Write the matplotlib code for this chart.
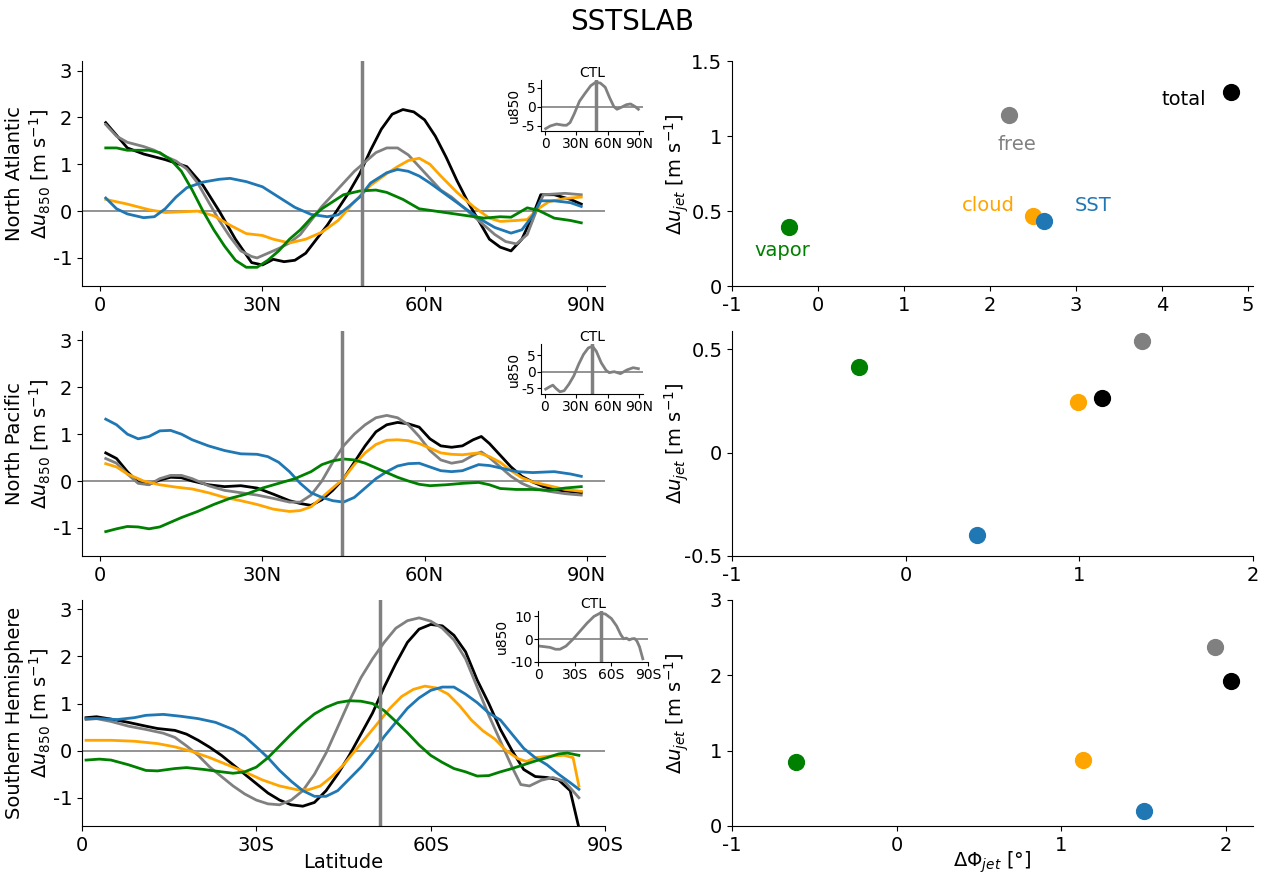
import matplotlib
matplotlib.use('Agg')
import matplotlib.pyplot as plt
from matplotlib.ticker import FormatStrFormatter

plt.rcParams['axes.unicode_minus'] = False
plt.rcParams['font.family'] = ['DejaVu Sans']

experiments = ['total', 'free', 'cloud', 'SST', 'vapor']
colors = ['black', 'grey', 'orange', '#1f77b4', 'green']

# ---- North Atlantic: delta u850 ----
na_total_lat = [1, 5, 8, 12, 16, 19, 22, 25, 28, 30, 32, 34, 36, 38, 40, 42, 44, 46, 48, 50, 52, 54, 56, 58, 60,
                62, 64, 66, 68, 70, 72, 74, 76, 78, 80, 81.5, 84, 87, 89]
na_total = [1.89, 1.35, 1.22, 1.1, 0.95, 0.55, 0.0, -0.6, -1.1, -1.15, -1.03, -1.08, -1.05, -0.9, -0.6, -0.3, 0.05,
            0.4, 0.8, 1.3, 1.75, 2.07, 2.17, 2.12, 1.95, 1.6, 1.15, 0.65, 0.2, -0.2, -0.6, -0.77, -0.85, -0.6, -0.1,
            0.35, 0.35, 0.25, 0.15]
na_free_lat = [1, 3, 5, 8, 10, 12, 14, 16, 18, 20, 22, 24, 26, 28, 29, 31, 33, 35, 37, 39, 41, 43, 45, 47, 49, 51,
               53, 55, 57, 59, 61, 63, 65, 67, 69, 71, 73, 75, 77, 79, 81, 82, 86, 89]
na_free = [1.85, 1.6, 1.47, 1.38, 1.3, 1.17, 1.07, 0.9, 0.6, 0.2, -0.2, -0.55, -0.85, -0.97, -1.0, -0.9, -0.8,
           -0.68, -0.5, -0.2, 0.1, 0.35, 0.6, 0.85, 1.05, 1.25, 1.35, 1.35, 1.2, 0.95, 0.7, 0.45, 0.3, 0.1, -0.1,
           -0.3, -0.5, -0.65, -0.7, -0.5, 0.1, 0.35, 0.38, 0.35]
na_cloud_lat = [1, 5, 9, 12, 18, 21, 24, 27, 30, 32, 35, 38, 41, 44, 47, 50, 53, 55, 57, 59, 61, 63, 66, 69, 72,
                74, 77, 79, 81, 83, 86, 89]
na_cloud = [0.25, 0.15, 0.03, -0.03, 0.0, -0.1, -0.3, -0.48, -0.52, -0.6, -0.68, -0.6, -0.45, -0.2, 0.2, 0.55, 0.8,
            0.95, 1.08, 1.13, 1.0, 0.75, 0.4, 0.1, -0.15, -0.22, -0.2, -0.18, 0.05, 0.2, 0.27, 0.3]
na_sst_lat = [1, 3, 5, 8, 10, 12, 14, 16, 19, 22, 24, 27, 30, 33, 36, 39, 42, 44, 46, 48, 50, 53, 55, 57, 59, 61,
              64, 67, 70, 73, 76, 78, 80, 81.5, 84, 87, 89]
na_sst = [0.28, 0.05, -0.06, -0.14, -0.12, 0.05, 0.3, 0.5, 0.62, 0.68, 0.7, 0.63, 0.52, 0.3, 0.08, -0.07, -0.12,
          -0.08, 0.1, 0.3, 0.6, 0.82, 0.89, 0.85, 0.75, 0.6, 0.35, 0.1, -0.15, -0.35, -0.47, -0.4, -0.1, 0.22,
          0.22, 0.18, 0.1]
na_vapor_lat = [1, 3, 5, 9, 11, 13, 15, 17, 19, 21, 23, 25, 27, 29, 31, 33, 35, 37, 39, 41, 43, 45, 48, 51, 53, 56,
                59, 62, 65, 68, 71, 74, 76, 79, 81, 84, 87, 89]
na_vapor = [1.35, 1.35, 1.3, 1.3, 1.25, 1.1, 0.85, 0.45, 0.0, -0.4, -0.75, -1.05, -1.2, -1.2, -1.05, -0.85, -0.6,
            -0.4, -0.15, 0.05, 0.2, 0.35, 0.43, 0.45, 0.4, 0.25, 0.05, 0.0, -0.05, -0.1, -0.15, -0.12, -0.13, 0.07,
            0.02, -0.15, -0.2, -0.25]

# ---- North Pacific: delta u850 ----
np_total_lat = [1, 3, 5, 7, 9, 11, 13, 15, 17, 20, 23, 26, 29, 32, 35, 37, 39, 41, 43, 45, 47, 49, 51, 53, 55, 57,
                59, 61, 63, 65, 67, 69, 70.5, 72, 74, 76, 78, 80, 82, 85, 89]
np_total = [0.6, 0.48, 0.2, -0.03, -0.07, 0.02, 0.08, 0.07, 0.0, -0.08, -0.12, -0.1, -0.15, -0.28, -0.42, -0.48,
            -0.52, -0.4, -0.2, 0.05, 0.4, 0.75, 1.05, 1.2, 1.25, 1.22, 1.15, 0.9, 0.75, 0.72, 0.75, 0.88, 0.95,
            0.8, 0.55, 0.3, 0.1, -0.02, -0.12, -0.2, -0.25]
np_free_lat = [1, 3, 5, 7, 9, 11, 13, 15, 17, 20, 23, 26, 29, 32, 35, 37, 39, 41, 43, 45, 47, 49, 51, 53, 55, 57,
               59, 61, 63, 65, 67, 69, 70.5, 72, 74, 76, 78, 80, 83, 86, 89]
np_free = [0.48, 0.38, 0.15, -0.05, -0.08, 0.05, 0.12, 0.12, 0.05, -0.1, -0.2, -0.25, -0.3, -0.37, -0.45, -0.45,
           -0.3, 0.0, 0.4, 0.75, 1.0, 1.2, 1.35, 1.4, 1.35, 1.2, 0.95, 0.65, 0.45, 0.38, 0.42, 0.55, 0.62, 0.5,
           0.3, 0.1, -0.05, -0.15, -0.22, -0.27, -0.3]
np_cloud_lat = [1, 3, 5, 8, 11, 14, 17, 20, 23, 26, 29, 32, 35, 37, 39, 41, 43, 45, 47, 49, 51, 53, 55, 57, 59, 61,
                63, 65, 67, 70, 72, 74, 76, 78, 80, 83, 86, 89]
np_cloud = [0.37, 0.3, 0.15, 0.0, -0.08, -0.13, -0.17, -0.25, -0.35, -0.42, -0.5, -0.6, -0.65, -0.63, -0.55, -0.35,
            -0.15, 0.05, 0.35, 0.6, 0.78, 0.87, 0.88, 0.86, 0.8, 0.7, 0.6, 0.57, 0.56, 0.6, 0.52, 0.4, 0.22, 0.07,
            -0.02, -0.1, -0.18, -0.22]
np_sst_lat = [1, 3, 5, 7, 9, 11, 13, 15, 17, 20, 23, 26, 29, 31, 33, 35, 37, 39, 41, 43, 45, 47, 49, 51, 53, 55, 57,
              59, 61, 63, 65, 67, 70, 72, 74, 77, 80, 84, 87, 89]
np_sst = [1.32, 1.2, 1.0, 0.9, 0.95, 1.07, 1.08, 1.0, 0.88, 0.75, 0.65, 0.58, 0.57, 0.52, 0.4, 0.2, -0.05, -0.25,
          -0.35, -0.42, -0.45, -0.35, -0.15, 0.05, 0.2, 0.32, 0.37, 0.38, 0.3, 0.22, 0.2, 0.22, 0.35, 0.33, 0.28,
          0.2, 0.18, 0.2, 0.15, 0.1]
np_vapor_lat = [1, 3, 5, 7, 9, 11, 13, 15, 18, 21, 24, 27, 30, 33, 36, 39, 41, 43, 45, 47, 49, 51, 53, 55, 57, 59,
                61, 64, 67, 70, 72, 74, 77, 80, 83, 86, 89]
np_vapor = [-1.08, -1.02, -0.97, -0.98, -1.02, -0.98, -0.88, -0.78, -0.65, -0.5, -0.37, -0.28, -0.15, -0.05, 0.05,
            0.2, 0.35, 0.43, 0.47, 0.45, 0.38, 0.28, 0.18, 0.08, 0.0, -0.07, -0.1, -0.08, -0.05, -0.03, -0.08, -0.16,
            -0.18, -0.18, -0.2, -0.15, -0.12]

# ---- Southern Hemisphere: delta u850 ----
sh_total_lat = [0.7, 2.5, 5, 8, 11, 13, 16, 18, 20, 22, 24, 26, 28, 30, 32, 34, 36, 38, 40, 42, 44, 46, 48, 50, 52,
                54, 56, 58, 60, 62, 64, 66, 68, 70, 72, 74, 76, 78, 80, 82, 84, 86]
sh_total = [0.7, 0.72, 0.67, 0.6, 0.52, 0.47, 0.43, 0.35, 0.22, 0.07, -0.1, -0.3, -0.5, -0.7, -0.9, -1.05, -1.15,
            -1.18, -1.1, -0.85, -0.5, -0.1, 0.35, 0.8, 1.35, 1.85, 2.3, 2.58, 2.68, 2.65, 2.45, 2.1, 1.5, 1.0, 0.45,
            0.0, -0.4, -0.55, -0.57, -0.62, -0.85, -1.9]
sh_free_lat = [0.7, 2.5, 5, 8, 11, 14, 16, 18, 20, 22, 24, 26, 28, 30, 32, 34, 36, 38, 40, 42, 44, 46, 48, 50, 52,
               54, 56, 58, 60, 62, 64, 66, 68, 70, 72, 74, 75.5, 77, 79, 81, 83, 85.5]
sh_free = [0.66, 0.68, 0.62, 0.52, 0.45, 0.37, 0.28, 0.1, -0.1, -0.35, -0.55, -0.75, -0.92, -1.05, -1.13, -1.15,
           -1.05, -0.85, -0.5, -0.05, 0.5, 1.05, 1.55, 1.95, 2.3, 2.6, 2.76, 2.82, 2.75, 2.6, 2.35, 1.95, 1.35,
           0.75, 0.2, -0.35, -0.72, -0.75, -0.63, -0.57, -0.65, -1.0]
sh_cloud_lat = [0.7, 5, 9, 13, 16, 19, 22, 25, 28, 31, 34, 37, 39, 41, 43, 45, 47, 49, 51, 53, 55, 57, 59, 61, 63,
                65, 67, 69, 71, 73, 75, 76.5, 78, 80, 83, 84.5, 85.5]
sh_cloud = [0.22, 0.22, 0.2, 0.15, 0.08, -0.02, -0.15, -0.3, -0.45, -0.62, -0.75, -0.83, -0.83, -0.75, -0.55, -0.3,
            0.0, 0.3, 0.6, 0.9, 1.15, 1.3, 1.37, 1.33, 1.2, 0.95, 0.65, 0.42, 0.25, 0.0, -0.17, -0.23, -0.15, -0.12,
            -0.1, -0.15, -0.75]
sh_sst_lat = [0.7, 3, 6, 9, 11, 14, 17, 20, 23, 26, 28, 30, 32, 34, 36, 38, 40, 42, 44, 46, 48, 50, 52, 54, 56, 58,
              60, 62, 64, 66, 68, 70, 72, 74, 76, 78, 80, 82, 84, 85.5]
sh_sst = [0.68, 0.68, 0.66, 0.7, 0.75, 0.77, 0.73, 0.68, 0.6, 0.45, 0.3, 0.08, -0.15, -0.42, -0.65, -0.85, -0.97,
          -0.97, -0.85, -0.6, -0.35, -0.05, 0.3, 0.6, 0.9, 1.12, 1.28, 1.35, 1.35, 1.2, 1.02, 0.8, 0.65, 0.35,
          0.05, -0.15, -0.3, -0.5, -0.68, -0.82]
sh_vapor_lat = [0.7, 3, 5, 8, 11, 13, 16, 18, 21, 24, 26, 28, 30, 32, 34, 36, 38, 40, 42, 44, 46, 48, 50, 52, 54,
                56, 58, 60, 62, 64, 66, 68, 70, 72, 74, 76, 78, 80, 82, 83.5, 85.5]
sh_vapor = [-0.2, -0.18, -0.2, -0.3, -0.42, -0.43, -0.38, -0.36, -0.4, -0.45, -0.48, -0.45, -0.35, -0.15, 0.1,
            0.35, 0.58, 0.78, 0.92, 1.02, 1.06, 1.05, 1.0, 0.85, 0.62, 0.38, 0.12, -0.1, -0.25, -0.38, -0.45, -0.54,
            -0.53, -0.45, -0.38, -0.3, -0.22, -0.15, -0.07, -0.05, -0.1]

# ---- CTL u850 (insets) ----
na_ctl_lat = [0.6, 5, 11, 17.6, 20.7, 24, 28, 33, 37.6, 43.8, 48.5, 53, 57.7, 62, 66, 69, 73, 78, 82, 86.4, 89.5]
na_ctl = [-5.7, -5.0, -4.5, -4.8, -4.8, -4.1, -1.8, 1.5, 3.3, 5.6, 6.5, 6.3, 5.2, 2.4, 0.1, -0.6, -0.1, 0.6, 0.8,
          0.1, -0.6]
np_ctl_lat = [0.9, 4.6, 7.7, 10.7, 14.4, 18.4, 23, 27.6, 32.2, 36.8, 41.4, 45.4, 49, 53.7, 58.3, 61.3, 66, 72, 78,
              84, 89]
np_ctl = [-5.3, -4.6, -4.1, -5.1, -6.1, -5.8, -3.8, -1.3, 2.2, 5.2, 7.2, 7.7, 6.2, 2.7, 0.4, -0.3, 0.0, -0.6, 0.5,
          1.2, 0.9]
sh_ctl_lat = [0.9, 5.7, 10, 14.3, 18, 22.9, 28.6, 34.3, 40, 45.7, 50.6, 55, 60, 64.3, 67.7, 70, 72.3, 74.6, 76.9,
              79, 80.9, 83, 85.7]
sh_ctl = [-3.0, -3.3, -3.6, -4.4, -4.4, -3.0, 0.0, 3.5, 7.0, 10.0, 11.4, 11.1, 9.1, 5.8, 2.0, 0.2, 0.5, -0.3, 0.2,
          0.3, -0.8, -3.3, -8.6]

# jet latitude in CTL
jet_lat = [48.5, 44.8, 51.3]

# ---- jet shift / jet speed change (scatter) ----
na_dphi = [4.80, 2.22, 2.50, 2.63, -0.34]
na_du = [1.293, 1.142, 0.467, 0.436, 0.393]
np_dphi = [1.13, 1.36, 0.99, 0.41, -0.27]
np_du = [0.263, 0.542, 0.247, -0.40, 0.417]
sh_dphi = [2.035, 1.934, 1.135, 1.507, -0.612]
sh_du = [1.92, 2.37, 0.88, 0.196, 0.85]

region_names = ['North Atlantic', 'North Pacific', 'Southern Hemisphere']
hemi = ['N', 'N', 'S']


def clean(ax):
    ax.spines['top'].set_visible(False)
    ax.spines['right'].set_visible(False)


def profile_panel(ax, series, jet, name, h, row):
    ax.axhline(0, color='grey', lw=1.2)
    for (lat, vals), c in zip(series, colors):
        ax.plot(lat, vals, color=c, lw=2)
    ax.axvline(jet, color='grey', lw=2.5)
    ax.set_ylim(-1.6, 3.2)
    ax.set_yticks([-1, 0, 1, 2, 3])
    ax.set_xticks([0, 30, 60, 90])
    ax.set_xticklabels(['0', '30' + h, '60' + h, '90' + h])
    if row == 2:
        ax.set_xlim(0, 90)
    ax.set_ylabel(name + '\n' + r'$\Delta u_{850}$ [m s$^{-1}$]', fontsize=14)
    ax.yaxis.set_label_coords(-0.056, 0.5)
    ax.tick_params(labelsize=14)
    clean(ax)


def inset_panel(ax, lat, vals, jet, h, row):
    ax.axhline(0, color='grey', lw=1.2)
    ax.plot(lat, vals, color='grey', lw=2)
    ax.axvline(jet, color='grey', lw=2.5)
    ax.set_xticks([0, 30, 60, 90])
    ax.set_xticklabels(['0', '30' + h, '60' + h, '90' + h])
    if row == 2:
        ax.set_xlim(0, 90)
        ax.set_yticks([-10, 0, 10])
    else:
        ax.set_yticks([-5, 0, 5])
    ax.set_title('CTL', fontsize=10, pad=2)
    ax.set_ylabel('u850', fontsize=10, labelpad=1)
    ax.tick_params(labelsize=10, pad=1, length=3)
    clean(ax)


def scatter_panel(ax, dphi, du, xlim, ylim, xticks, yticks):
    for x, y, c in zip(dphi, du, colors):
        ax.scatter(x, y, color=c, s=130, zorder=3)
    ax.set_xlim(*xlim)
    ax.set_ylim(*ylim)
    ax.set_xticks(xticks)
    ax.set_yticks(yticks)
    ax.xaxis.set_major_formatter(FormatStrFormatter('%g'))
    ax.yaxis.set_major_formatter(FormatStrFormatter('%g'))
    ax.set_ylabel(r'$\Delta u_{jet}$ [m s$^{-1}$]', fontsize=14)
    ax.yaxis.set_label_coords(-0.079, 0.5)
    ax.tick_params(labelsize=14)
    clean(ax)


fig = plt.figure(figsize=(12.65, 8.76), dpi=100)

rows_y = [(0.6735, 0.2565), (0.3653, 0.2568), (0.0571, 0.2580)]
left_x, left_w = 0.0648, 0.4135
right_x, right_w = 0.5787, 0.4118

profiles = [
    [(na_total_lat, na_total), (na_free_lat, na_free), (na_cloud_lat, na_cloud),
     (na_sst_lat, na_sst), (na_vapor_lat, na_vapor)],
    [(np_total_lat, np_total), (np_free_lat, np_free), (np_cloud_lat, np_cloud),
     (np_sst_lat, np_sst), (np_vapor_lat, np_vapor)],
    [(sh_total_lat, sh_total), (sh_free_lat, sh_free), (sh_cloud_lat, sh_cloud),
     (sh_sst_lat, sh_sst), (sh_vapor_lat, sh_vapor)],
]
ctl = [(na_ctl_lat, na_ctl), (np_ctl_lat, np_ctl), (sh_ctl_lat, sh_ctl)]
insets = [(0.4277, 0.8505, 0.0806, 0.0582), (0.4277, 0.5502, 0.0806, 0.0571), (0.4253, 0.2443, 0.0870, 0.0582)]
scat = [(na_dphi, na_du, (-1, 5.06), (0, 1.5), [-1, 0, 1, 2, 3, 4, 5], [0, 0.5, 1, 1.5]),
        (np_dphi, np_du, (-1, 2), (-0.5, 0.589), [-1, 0, 1, 2], [-0.5, 0, 0.5]),
        (sh_dphi, sh_du, (-1, 2.167), (0, 3), [-1, 0, 1, 2], [0, 1, 2, 3])]

for i in range(3):
    b, hgt = rows_y[i]
    ax = fig.add_axes([left_x, b, left_w, hgt])
    profile_panel(ax, profiles[i], jet_lat[i], region_names[i], hemi[i], i)
    if i == 2:
        ax.set_xlabel('Latitude', fontsize=14, labelpad=-1)

    axin = fig.add_axes(list(insets[i]))
    inset_panel(axin, ctl[i][0], ctl[i][1], jet_lat[i], hemi[i], i)

    axs = fig.add_axes([right_x, b, right_w, hgt])
    scatter_panel(axs, *scat[i])
    if i == 0:
        offsets = [(4.26, 1.245), (2.31, 0.944), (1.98, 0.54), (3.2, 0.54), (-0.41, 0.24)]
        for name, c, (tx, ty) in zip(experiments, colors, offsets):
            axs.text(tx, ty, name, color=c, fontsize=14, ha='center', va='center')
    if i == 2:
        axs.set_xlabel(r'$\Delta\Phi_{jet}$ [°]', fontsize=14, labelpad=-4)

fig.text(0.5, 0.975, 'SSTSLAB', fontsize=20, ha='center', va='center')

fig.savefig('out.png', dpi=100)
